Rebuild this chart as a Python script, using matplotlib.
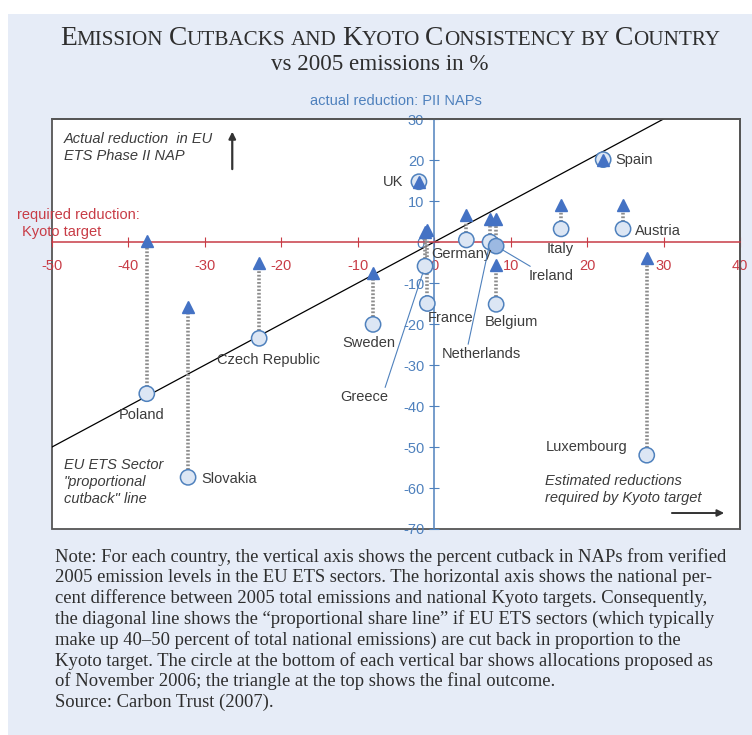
import matplotlib.pyplot as plt
from matplotlib.patches import Rectangle

plt.rcParams['font.family'] = ['Liberation Sans', 'DejaVu Sans']
plt.rcParams['axes.unicode_minus'] = False

# data (x: required Kyoto cut, y: NAP cut, both % vs 2005)
countries = ['Poland', 'Slovakia', 'Czech Republic', 'Sweden', 'Greece', 'France', 'UK',
             'Germany', 'Netherlands', 'Ireland', 'Belgium', 'Italy', 'Spain', 'Austria',
             'Luxembourg']
kyoto_gap = [-37.6, -32.2, -22.9, -8.0, -1.2, -0.9, -2.0, 4.2, 7.3, 8.1, 8.1, 16.6, 22.1,
             24.7, 27.8]
nap_proposed = [-37.0, -57.4, -23.5, -20.1, -5.9, -15.0, 14.7, 0.5, 0.0, -1.0, -15.2, 3.2,
                20.1, 3.2, -52.0]
nap_final = [0.2, -15.9, -5.1, -7.6, 2.5, 2.9, 14.7, 6.6, 5.6, 5.6, -5.6, 9.1, 20.1, 9.1,
             -3.9]
proportional_x = [-50, 30]
x_ticks = list(range(-50, 41, 10))
y_ticks = list(range(-70, 31, 10))

BLUE = '#4F81BD'
TRI = '#4472C4'
RED = '#C83C46'
TXT = '#3C3C3C'

W, H = 752, 735
fig = plt.figure(figsize=(W / 100, H / 100), dpi=100)
fig.patch.set_facecolor('white')
fig.add_artist(Rectangle((8 / W, 0), 1, 1 - 14 / H, transform=fig.transFigure,
                         facecolor='#E6ECF7', edgecolor='none', zorder=-10))

ax = fig.add_axes([52 / W, 1 - 529 / H, 688 / W, 410 / H])
ax.set_xlim(-50, 40)
ax.set_ylim(-70, 30)
ax.set_facecolor('white')

# axes crossing at zero, plus a grey frame
ax.spines['left'].set_position(('data', 0))
ax.spines['left'].set_color(BLUE)
ax.spines['left'].set_linewidth(1.1)
ax.spines['bottom'].set_position(('data', 0))
ax.spines['bottom'].set_color(RED)
ax.spines['bottom'].set_linewidth(1.1)
for s in ['top', 'right']:
    ax.spines[s].set_color('#555555')
    ax.spines[s].set_linewidth(1.3)
ax.add_patch(Rectangle((0, 0), 1, 1, transform=ax.transAxes, fill=False,
                       edgecolor='#555555', lw=1.3, clip_on=False, zorder=0.5))

ax.set_xticks(x_ticks)
ax.set_yticks(y_ticks)
ax.tick_params(axis='x', direction='inout', length=6.5, color=RED, labelcolor=RED,
               labelsize=10.5, pad=9)
ax.tick_params(axis='y', direction='inout', length=6.5, color=BLUE, labelcolor=BLUE,
               labelsize=10.5, pad=4)

# proportional cutback line
ax.plot(proportional_x, proportional_x, color='black', lw=0.9, zorder=2)

# vertical bars, circles (proposed) and triangles (final)
for x, lo, hi in zip(kyoto_gap, nap_proposed, nap_final):
    if lo != hi:
        ax.plot([x, x], [lo, hi], color='#8C8C8C', lw=2.6, ls=(0, (0.5, 0.5)), zorder=3)
fills = ['#9CB9E2' if c == 'Ireland' else '#DCE6F4' for c in countries]
ax.scatter(kyoto_gap, nap_proposed, s=11 ** 2, facecolors=fills, edgecolors=BLUE,
           linewidths=1.1, zorder=4)
ax.plot(kyoto_gap, nap_final, '^', ms=8.8, color=TRI, ls='none', zorder=5)

# country labels: offset in pixels from the circle, alignment, leader relpos
label_pos = {
    'Poland': (-5, -21, 'center', None),
    'Slovakia': (13, -2, 'left', None),
    'Czech Republic': (9, -22, 'center', None),
    'Sweden': (-4, -19, 'center', None),
    'Greece': (-61, -131, 'center', (0.92, 1)),
    'France': (23, -14, 'center', None),
    'UK': (-16, 0, 'right', None),
    'Germany': (-5, -14, 'center', None),
    'Netherlands': (-9, -112, 'center', (0.33, 1)),
    'Ireland': (55, -30, 'center', (0.14, 1)),
    'Belgium': (15, -18, 'center', None),
    'Italy': (-1, -20, 'center', None),
    'Spain': (12, 0, 'left', None),
    'Austria': (12, -2, 'left', None),
    'Luxembourg': (-60, 8, 'center', None),
}
for c, x, y in zip(countries, kyoto_gap, nap_proposed):
    dx, dy, ha, rel = label_pos[c]
    kw = {}
    if rel is not None:
        kw['arrowprops'] = dict(arrowstyle='-', color=BLUE, lw=0.8, relpos=rel,
                                shrinkA=0, shrinkB=5)
    ax.annotate(c, (x, y), xytext=(dx, dy), textcoords='offset pixels', ha=ha,
                va='center', fontsize=10.5, color=TXT, zorder=6, **kw)

# in-plot notes
ax.text(0.0174, 0.968, 'Actual reduction  in EU\nETS Phase II NAP', transform=ax.transAxes,
        ha='left', va='top', fontsize=10.5, style='italic', color=TXT, linespacing=1.25)
ax.annotate('', xy=(0.262, 0.976), xytext=(0.262, 0.871), xycoords='axes fraction',
            arrowprops=dict(arrowstyle='-|>', color='#333333', lw=1.6, mutation_scale=10))
ax.text(0.0174, 0.173, 'EU ETS Sector\n"proportional\ncutback" line', transform=ax.transAxes,
        ha='left', va='top', fontsize=10.5, style='italic', color=TXT, linespacing=1.25)
ax.text(0.7166, 0.134, 'Estimated reductions\nrequired by Kyoto target',
        transform=ax.transAxes, ha='left', va='top', fontsize=10.5, style='italic',
        color=TXT, linespacing=1.25)
ax.annotate('', xy=(0.981, 0.039), xytext=(0.897, 0.039), xycoords='axes fraction',
            arrowprops=dict(arrowstyle='-|>', color='#333333', lw=1.4, mutation_scale=10))

fig.text(17 / W, 1 - 215 / H, 'required reduction:', color=RED, fontsize=10.5, va='center')
fig.text(22 / W, 1 - 232 / H, 'Kyoto target', color=RED, fontsize=10.5, va='center')
fig.text(396 / W, 1 - 101 / H, 'actual reduction: PII NAPs', color=BLUE, fontsize=10.5,
         ha='center', va='center')

# small-caps title
renderer = fig.canvas.get_renderer()


def small_caps(words, y, xc, big, small):
    pieces = []
    for w in words:
        if w[0].isupper():
            pieces.append((w[0], big))
            rest = w[1:]
        else:
            rest = w
        if rest:
            pieces.append((rest.upper(), small))
        pieces.append((None, small))
    pieces = pieces[:-1]
    texts = []
    total = 0
    for s, size in pieces:
        if s is None:
            texts.append((None, 0.25 * size * 100 / 72))
        else:
            t = fig.text(0, y, s, fontsize=size, family='Liberation Serif', va='baseline',
                         color='#2E2E2E')
            wpx = t.get_window_extent(renderer).width
            texts.append((t, wpx))
        total += texts[-1][1]
    x = xc * W - total / 2
    for t, wpx in texts:
        if t is not None:
            t.set_x(x / W)
        x += wpx


small_caps(['Emission', 'Cutbacks', 'and', 'Kyoto', 'Consistency', 'by', 'Country'],
           1 - 45 / H, 390 / W, 19.8, 15.2)
fig.text(380 / W, 1 - 70 / H, 'vs 2005 emissions in %', family='Liberation Serif',
         fontsize=16.6, ha='center', va='baseline', color='#2E2E2E')

note = ('Note: For each country, the vertical axis shows the percent cutback in NAPs from verified\n'
        '2005 emission levels in the EU ETS sectors. The horizontal axis shows the national per-\n'
        'cent difference between 2005 total emissions and national Kyoto targets. Consequently,\n'
        'the diagonal line shows the \u201cproportional share line\u201d if EU ETS sectors (which typically\n'
        'make up 40\u201350 percent of total national emissions) are cut back in proportion to the\n'
        'Kyoto target. The circle at the bottom of each vertical bar shows allocations proposed as\n'
        'of November 2006; the triangle at the top shows the final outcome.\n'
        'Source: Carbon Trust (2007).')
fig.text(55 / W, 1 - 548 / H, note, family='Liberation Serif', fontsize=13.4, ha='left',
         va='top', color='#2E2E2E', linespacing=1.22)

fig.savefig('out.png', dpi=100)
